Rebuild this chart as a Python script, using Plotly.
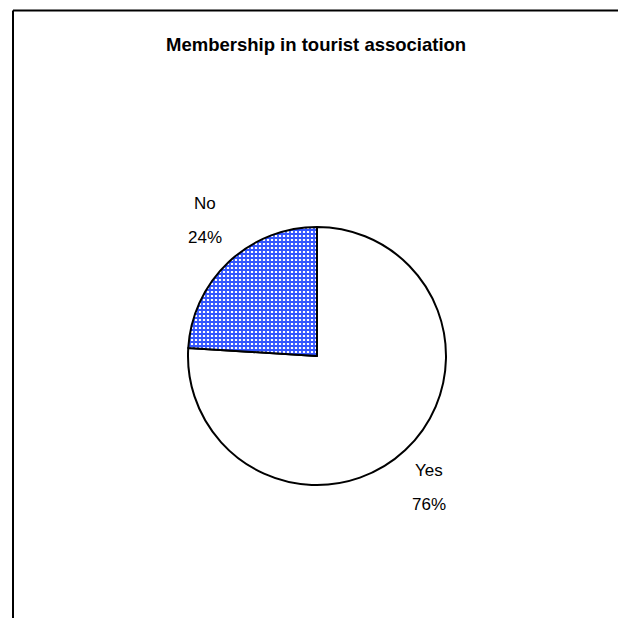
import math
import plotly.graph_objects as go

labels = ["Yes", "No"]
values = [76, 24]
colors = ["#FFFFFF", "#3366FF"]
title_text = "Membership in tourist association"

W = H = 618
cx, cy, r = 317, 356, 129
FONT = "Liberation Sans, Arial, sans-serif"

fig = go.Figure(go.Pie(
    labels=labels,
    values=values,
    sort=False,
    direction="clockwise",
    rotation=0,
    textinfo="none",
    marker=dict(
        colors=colors,
        line=dict(color="#000000", width=2),
        pattern=dict(shape=["", "+"], fgcolor="#3355FF", bgcolor="#FFFFFF", size=4, solidity=0.7, fillmode="replace"),
    ),
    domain=dict(x=[(cx - r) / W, (cx + r) / W], y=[1 - (cy + r) / H, 1 - (cy - r) / H]),
    showlegend=False,
    hoverinfo="label+percent",
))

# label placement derived from the slice mid-angles (Excel-like outside labels)
annotations = []
total = sum(values)
cum = 0.0
for lab, v in zip(labels, values):
    mid = (cum + v / 2) / total * 2 * math.pi  # clockwise from 12 o'clock
    cum += v
    dx, dy = math.sin(mid), -math.cos(mid)  # screen coords (y down)
    R = 1.09 * r
    px = cx + dx * R + math.copysign(16, dx)
    py = cy + dy * R + math.copysign(31, dy) - 2
    pct = f"{round(v / total * 100)}%"
    for txt, off in ((lab, -17), (pct, 17)):
        annotations.append(dict(
            text=txt, xref="paper", yref="paper", x=px / W, y=1 - (py + off) / H,
            xanchor="center", yanchor="middle", showarrow=False,
            font=dict(family=FONT, size=17, color="#000000"),
        ))

annotations.append(dict(
    text="<b>" + title_text + "</b>",
    xref="paper", yref="paper", x=316 / W, y=1 - 44 / H,
    xanchor="center", yanchor="middle", showarrow=False,
    font=dict(family=FONT, size=18.5, color="#000000"),
))

fig.update_layout(
    width=W, height=H,
    margin=dict(l=0, r=0, t=0, b=0),
    paper_bgcolor="#FFFFFF",
    annotations=annotations,
    shapes=[
        dict(type="line", xref="paper", yref="paper", x0=13 / W, y0=1 - 10.5 / H, x1=1.05, y1=1 - 10.5 / H,
             line=dict(color="#000000", width=2)),
        dict(type="line", xref="paper", yref="paper", x0=13 / W, y0=1 - 10.5 / H, x1=13 / W, y1=-0.05,
             line=dict(color="#000000", width=2)),
    ],
)

fig.write_html("out.html")
